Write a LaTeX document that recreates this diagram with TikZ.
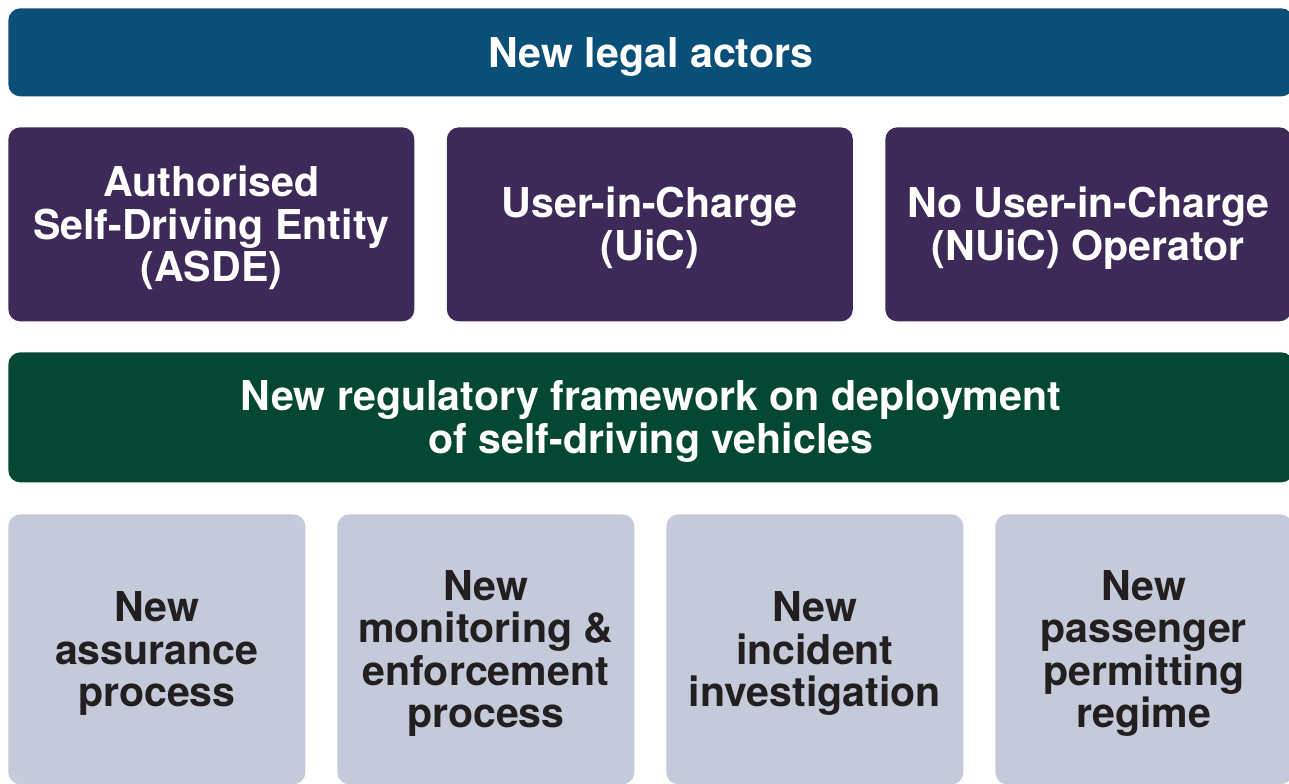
\documentclass[tikz,border=0pt]{standalone}
\usepackage{fontspec}
\setmainfont{TeX Gyre Heros}
\definecolor{actorblue}{HTML}{0A4F78}
\definecolor{actorpurple}{HTML}{3D2A58}
\definecolor{frameworkgreen}{HTML}{044733}
\definecolor{processgray}{HTML}{C4CADA}
\definecolor{inkdark}{HTML}{231F20}
% struts so that every panel centres its lines the same way
\newcommand{\topstrut}{\rule{0pt}{22.2pt}}
\newcommand{\botstrut}{\rule[-5.4pt]{0pt}{0pt}}
\tikzset{
    panel/.style={rounded corners=0.24cm, inner sep=0pt, align=center, anchor=north west,
        font=\bfseries\fontsize{23.4}{24.2}\selectfont},
}
\begin{document}
\begin{tikzpicture}
    % Parameters
    \def\margin{0.16}
    \def\fullwidth{25.7}

    \clip (0,0) rectangle (25.78,15.66);

    % Top bar
    \node[panel, fill=actorblue, text=white, minimum width=\fullwidth cm, minimum height=1.76cm]
        (actors) at (\margin, 15.50) {\topstrut New legal actors\botstrut};

    % Legal actors
    \foreach \i/\txt in {0/{Authorised\\Self-Driving Entity\\(ASDE)}, 1/{User-in-Charge\\(UiC)}, 2/{No User-in-Charge\\(NUiC) Operator}} {
        \node[panel, fill=actorpurple, text=white, minimum width=8.12cm, minimum height=3.88cm]
            (actor\i) at (\margin+\i*8.77, 13.12) {\topstrut\txt\botstrut};
    }

    % Framework bar
    \node[panel, fill=frameworkgreen, text=white, minimum width=\fullwidth cm, minimum height=2.6cm]
        (framework) at (\margin, 8.62) {\topstrut New regulatory framework on deployment\\of self-driving vehicles\botstrut};

    % Processes
    \foreach \i/\txt in {0/{New\\assurance\\process}, 1/{New\\monitoring \&\\enforcement\\process}, 2/{New\\incident\\investigation}, 3/{New\\passenger\\permitting\\regime}} {
        \node[panel, fill=processgray, text=inkdark, minimum width=5.94cm, minimum height=5.4cm]
            (process\i) at (\margin+\i*6.58, 5.38) {\topstrut\txt\botstrut};
    }
\end{tikzpicture}
\end{document}
